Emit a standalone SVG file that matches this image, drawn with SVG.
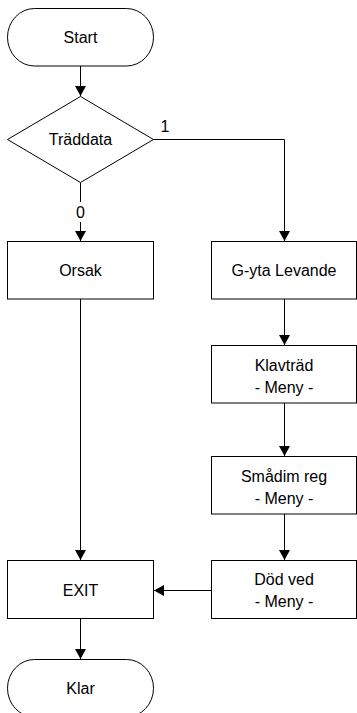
<svg xmlns="http://www.w3.org/2000/svg" width="357" height="713" viewBox="0 0 357 713">
<style>
.s{fill:#fff;stroke:#000;stroke-width:1}
.t{font-family:"Liberation Sans",Arial,sans-serif;font-size:16px;fill:#000;text-anchor:middle}
.c{fill:none;stroke:#000;stroke-width:1}
</style>
<defs>
<marker id="ah" markerWidth="10" markerHeight="11" refX="10" refY="5.5" orient="auto" markerUnits="userSpaceOnUse">
<path d="M0,0 L10,5.5 L0,11 Z" fill="#000"/>
</marker>
</defs>
<rect width="357" height="713" fill="#fff"/>
<g id="connectors">
<path class="c" d="M80.5,66 V96" marker-end="url(#ah)"/>
<path class="c" d="M80.5,182.5 V202"/>
<path class="c" d="M80.5,222 V241" marker-end="url(#ah)"/>
<path class="c" d="M153.5,139.5 H284.5 V241" marker-end="url(#ah)"/>
<path class="c" d="M284.5,299 V345" marker-end="url(#ah)"/>
<path class="c" d="M284.5,403 V456" marker-end="url(#ah)"/>
<path class="c" d="M284.5,514 V560" marker-end="url(#ah)"/>
<path class="c" d="M80.5,299 V560" marker-end="url(#ah)"/>
<path class="c" d="M211.5,590.5 H154" marker-end="url(#ah)"/>
<path class="c" d="M80.5,618.5 V659" marker-end="url(#ah)"/>
<text class="t" x="165" y="132">1</text>
<text class="t" x="80.5" y="217.5">0</text>
</g>
<g id="start">
<rect class="s" x="7.5" y="8.5" width="146" height="57.5" rx="27" ry="28.75"/>
<text class="t" x="80.5" y="43">Start</text>
</g>
<g id="traddata">
<polygon class="s" points="80.5,96.5 7.5,139.5 80.5,182.5 153.5,139.5"/>
<text class="t" x="80.5" y="145">Träddata</text>
</g>
<g id="orsak">
<rect class="s" x="7.5" y="241.5" width="146" height="57.5"/>
<text class="t" x="80.5" y="276">Orsak</text>
</g>
<g id="gyta">
<rect class="s" x="211.5" y="241.5" width="145" height="57.5"/>
<text class="t" x="284" y="276">G-yta Levande</text>
</g>
<g id="klavtrad">
<rect class="s" x="211.5" y="345.5" width="145" height="57.5"/>
<text class="t" x="284" y="370.5">Klavträd</text>
<text class="t" x="284" y="392.5">- Meny -</text>
</g>
<g id="smadim">
<rect class="s" x="211.5" y="456.5" width="145" height="57.5"/>
<text class="t" x="284" y="482">Smådim reg</text>
<text class="t" x="284" y="504">- Meny -</text>
</g>
<g id="dodved">
<rect class="s" x="211.5" y="560.5" width="145" height="58"/>
<text class="t" x="284" y="585">Död ved</text>
<text class="t" x="284" y="607">- Meny -</text>
</g>
<g id="exit">
<rect class="s" x="7.5" y="560.5" width="146" height="58"/>
<text class="t" x="80.5" y="595.5">EXIT</text>
</g>
<g id="klar">
<rect class="s" x="7.5" y="659.5" width="146" height="57.5" rx="27" ry="28.75"/>
<text class="t" x="80.5" y="694">Klar</text>
</g>
</svg>
